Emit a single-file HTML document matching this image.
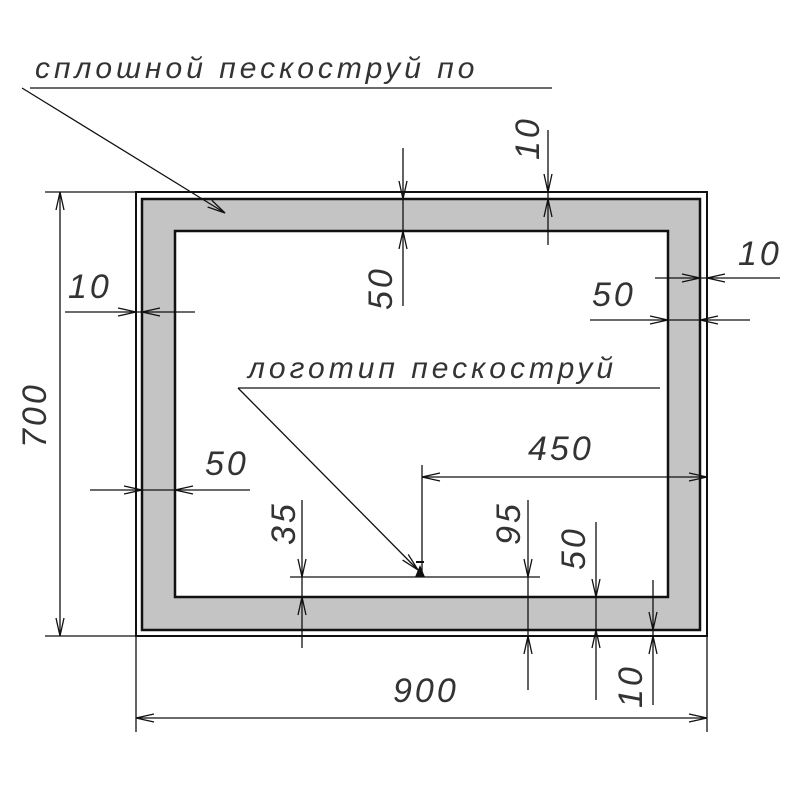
<!DOCTYPE html>
<html><head><meta charset="utf-8"><style>
html,body{margin:0;padding:0;background:#fff}
svg{display:block}
text{font-family:"Liberation Sans",sans-serif;font-style:italic;font-size:30px;fill:#333;letter-spacing:2px}
.n{font-size:34px;letter-spacing:3px}
</style></head><body>
<svg id="s" width="800" height="800" viewBox="0 0 800 800" xmlns="http://www.w3.org/2000/svg">
<rect x="0" y="0" width="800" height="800" fill="#fff"/>
<rect x="136" y="192" width="571" height="444" fill="none" stroke="#111" stroke-width="2"/>
<rect x="142" y="199" width="558" height="431" fill="#c4c4c4" stroke="#111" stroke-width="2.5"/>
<rect x="175" y="231" width="493" height="366" fill="#fff" stroke="#111" stroke-width="2.5"/>
<g stroke="#111" stroke-width="1.3" fill="none" id="g">
<line x1="30" y1="88" x2="552" y2="88"/>
<line x1="22" y1="88" x2="225" y2="213"/>
<line x1="238" y1="388" x2="660" y2="388"/>
<line x1="238" y1="388" x2="418" y2="570"/>
<line x1="45" y1="192" x2="136" y2="192"/>
<line x1="45" y1="636" x2="136" y2="636"/>
<line x1="60" y1="192" x2="60" y2="636"/>
<line x1="136" y1="636" x2="136" y2="732"/>
<line x1="707" y1="636" x2="707" y2="732"/>
<line x1="136" y1="718" x2="707" y2="718"/>
<line x1="548" y1="130" x2="548" y2="245"/>
<line x1="403" y1="148" x2="403" y2="306"/>
<line x1="655" y1="278" x2="780" y2="278"/>
<line x1="590" y1="320" x2="750" y2="320"/>
<line x1="65" y1="312" x2="195" y2="312"/>
<line x1="90" y1="490" x2="250" y2="490"/>
<line x1="422" y1="477" x2="707" y2="477"/>
<line x1="422" y1="465" x2="422" y2="572"/>
<line x1="290" y1="577" x2="540" y2="577"/>
<line x1="302" y1="500" x2="302" y2="648"/>
<line x1="528" y1="500" x2="528" y2="690"/>
<line x1="596" y1="522" x2="596" y2="700"/>
<line x1="653" y1="580" x2="653" y2="705"/>
</g>
<path d="M415,577 L420,565 L425,577 Z" fill="#111"/>
<line x1="416" y1="562" x2="424" y2="562" stroke="#111" stroke-width="2"/>
<text x="35" y="78" style="letter-spacing:4px">сплошной пескоструй по</text>
<text x="248" y="378" style="letter-spacing:4px">логотип пескоструй</text>
<text class="n" x="393" y="702">900</text>
<text class="n" x="528" y="460">450</text>
<text class="n" x="205" y="475">50</text>
<text class="n" x="68" y="298">10</text>
<text class="n" x="592" y="306">50</text>
<text class="n" x="738" y="265">10</text>
<text class="n" transform="translate(46,448) rotate(-90)">700</text>
<text class="n" transform="translate(539,160) rotate(-90)">10</text>
<text class="n" transform="translate(392,310) rotate(-90)">50</text>
<text class="n" transform="translate(295,545) rotate(-90)">35</text>
<text class="n" transform="translate(520,545) rotate(-90)">95</text>
<text class="n" transform="translate(585,570) rotate(-90)">50</text>
<text class="n" transform="translate(642,708) rotate(-90)">10</text>
</svg>
<script>
var g=document.getElementById('g');
function ar(x,y,dx,dy){var L=18,W=4,px=-dy,py=dx;
var p=document.createElementNS('http://www.w3.org/2000/svg','path');
p.setAttribute('d','M'+(x-dx*L+px*W)+','+(y-dy*L+py*W)+' L'+x+','+y+' L'+(x-dx*L-px*W)+','+(y-dy*L-py*W));
g.appendChild(p);}
ar(225,213,0.85,0.52);ar(418,570,0.7,0.71);
ar(60,192,0,-1);ar(60,636,0,1);
ar(136,718,-1,0);ar(707,718,1,0);
ar(548,192,0,1);ar(548,199,0,-1);
ar(403,199,0,1);ar(403,231,0,-1);
ar(700,278,1,0);ar(707,278,-1,0);
ar(668,320,1,0);ar(700,320,-1,0);
ar(136,312,1,0);ar(142,312,-1,0);
ar(142,490,1,0);ar(175,490,-1,0);
ar(422,477,-1,0);ar(707,477,1,0);
ar(302,577,0,1);ar(302,597,0,-1);
ar(528,577,0,1);ar(528,636,0,-1);
ar(596,597,0,1);ar(596,630,0,-1);
ar(653,630,0,1);ar(653,636,0,-1);
</script>
</body></html>
